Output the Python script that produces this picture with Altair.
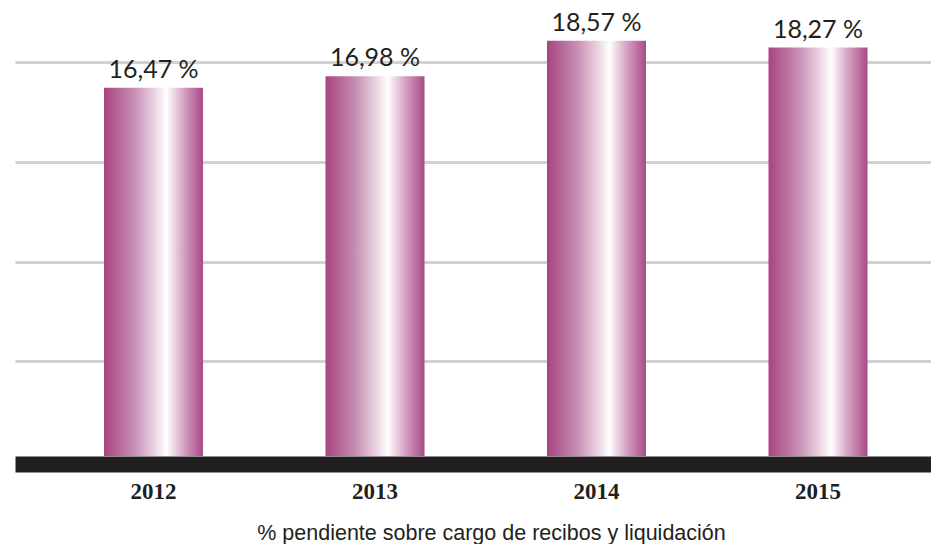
import altair as alt
import pandas as pd

years = ["2012", "2013", "2014", "2015"]
values = [16.47, 16.98, 18.57, 18.27]
labels = ["16,47 %", "16,98 %", "18,57 %", "18,27 %"]
grid_values = [4.23, 8.69, 13.15, 17.6]
axis_title = "% pendiente sobre cargo de recibos y liquidación"

df = pd.DataFrame({"year": years, "value": values, "label": labels})

ink = "#231f20"

gradient = alt.Gradient(
    gradient="linear",
    x1=0, y1=0, x2=1, y2=0,
    stops=[
        alt.GradientStop(color="#a8447f", offset=0),
        alt.GradientStop(color="#c68db3", offset=0.3),
        alt.GradientStop(color="#e8cfdf", offset=0.5),
        alt.GradientStop(color="#ffffff", offset=0.63),
        alt.GradientStop(color="#d6a4c4", offset=0.8),
        alt.GradientStop(color="#a84a86", offset=1),
    ],
)

x = alt.X(
    "year:N",
    sort=years,
    scale=alt.Scale(paddingInner=0.553, paddingOuter=0.3443, align=0.5836),
    axis=alt.Axis(
        title=axis_title,
        titleFont="Liberation Sans",
        titleFontSize=21.5,
        titleFontWeight="normal",
        titleColor=ink,
        titleX=476,
        titleY=75,
        titleAlign="center",
        titleBaseline="alphabetic",
        labelFont="Liberation Serif",
        labelFontSize=23,
        labelFontWeight="bold",
        labelColor=ink,
        labelAngle=0,
        labelBaseline="alphabetic",
        labelPadding=34,
        ticks=False,
        tickSize=0,
        domainColor=ink,
        domainWidth=16,
        offset=8,
        grid=False,
    ),
)

y = alt.Y(
    "value:Q",
    scale=alt.Scale(domain=[0, 20.037], nice=False, zero=True),
    axis=alt.Axis(
        title=None,
        labels=False,
        ticks=False,
        domain=False,
        grid=True,
        values=grid_values,
        gridColor="#d1d2d4",
        gridWidth=3,
        gridOpacity=1,
    ),
)

bars = alt.Chart(df).mark_bar(color=gradient).encode(x=x, y=y)

text = alt.Chart(df).mark_text(
    baseline="alphabetic", dy=-10, font="Lato", fontSize=25, color=ink
).encode(
    x=alt.X("year:N", sort=years),
    y=alt.Y("value:Q"),
    text="label:N",
)

chart = (
    alt.layer(bars, text)
    .properties(
        width=916,
        height=448,
        padding={"left": 7, "top": 0, "right": 0, "bottom": 88},
        autosize=alt.AutoSizeParams(type="none"),
        background="white",
    )
    .configure_view(stroke=None, strokeWidth=0)
)

chart.save("out.html", embed_options={"renderer": "svg", "actions": False})
